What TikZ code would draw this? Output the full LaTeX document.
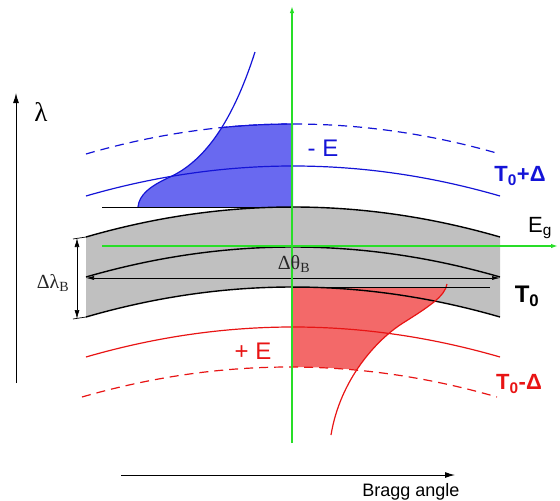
\documentclass[tikz,border=0pt]{standalone}
\usepackage{fontspec}
\setmainfont{Liberation Sans}
\newfontfamily\braggserif{Liberation Serif}
\usetikzlibrary{arrows.meta}
\definecolor{field-green}{RGB}{40,222,40}
\definecolor{band-gray}{RGB}{192,192,192}
\definecolor{hot-blue}{RGB}{20,20,215}
\definecolor{hot-fill}{RGB}{105,105,240}
\definecolor{cold-red}{RGB}{232,20,20}
\definecolor{cold-fill}{RGB}{243,105,105}
\tikzset{
  band-edge/.style={draw=black, line width=1.4pt},
  tangent-line/.style={draw=black, line width=0.7pt},
  axis-arrow/.style={-{Latex[length=10pt,width=6pt]}, line width=1pt},
  field-arrow/.style={draw=field-green, line width=1.6pt, -{Latex[length=7pt,width=4.5pt]}},
  hot-curve/.style={draw=hot-blue, line width=1.2pt},
  cold-curve/.style={draw=cold-red, line width=1.2pt},
  shift-dash/.style={dash pattern=on 9pt off 6pt},
  sans-label/.style={font=\fontsize{24}{24}\selectfont, inner sep=0pt},
  temp-label/.style={font=\bfseries\fontsize{22}{22}\selectfont, inner sep=0pt},
  serif-label/.style={font=\braggserif\fontsize{20}{20}\selectfont, inner sep=0pt, text=black!85}
}

\begin{document}
\begin{tikzpicture}[>=Latex, x=1pt, y=-1pt]
  \useasboundingbox (0,0) rectangle (560,501);
  \fill[band-gray] (86,237) .. controls (224,197) and (362,197) .. (500,237) -- (500,317)
    .. controls (362,277) and (224,277) .. (86,317) -- cycle;
  \begin{scope}
    \clip (138,207) .. controls (139,195) and (150,186) .. (170,177) .. controls (200,163) and (230,130) .. (255,52)
      -- (293,52) -- (293,207) -- cycle;
    \fill[hot-fill] (86,154) .. controls (224,114) and (362,114) .. (500,154) -- (500,207) -- (86,207) -- cycle;
    \draw[hot-curve] (86,154) .. controls (224,114) and (362,114) .. (500,154);
  \end{scope}
  \begin{scope}
    \clip (447,284) .. controls (445,296) and (430,306) .. (403,323) .. controls (376,340) and (340,380) .. (331,435)
      -- (293,435) -- (293,284) -- cycle;
    \fill[cold-fill] (86,287) -- (500,287) -- (500,397) .. controls (362,357) and (224,357) .. (86,397) -- cycle;
  \end{scope}
  \foreach \yy in {237,277,317} {
    \draw[band-edge] (86,\yy) .. controls (224,\yy-40) and (362,\yy-40) .. (500,\yy);
  }
  \draw[hot-curve, shift-dash] (86,154) .. controls (224,114) and (362,114) .. (500,154);
  \draw[hot-curve] (86,196) .. controls (224,156) and (362,156) .. (500,196);
  \draw[hot-curve] (138,207) .. controls (139,195) and (150,186) .. (170,177) .. controls (200,163) and (230,130) .. (255,52);
  \draw[cold-curve] (86,357) .. controls (224,317) and (362,317) .. (500,357);
  \draw[cold-curve, shift-dash] (82,397) .. controls (221,357) and (359,357) .. (497,397);
  \draw[cold-curve] (447,284) .. controls (445,296) and (430,306) .. (403,323) .. controls (376,340) and (340,380) .. (331,435);
  \coordinate (tt-l) at (102,207);
  \coordinate (tt-r) at (293,207);
  \coordinate (tb-l) at (293,287);
  \coordinate (tb-r) at (490,287);
  \draw[tangent-line] (tt-l) -- (tt-r);
  \draw[tangent-line] (tb-l) -- (tb-r);
  \coordinate (dt-l) at (86,278);
  \coordinate (dt-r) at (500,278);
  \draw[tangent-line, {Latex[length=8pt,width=4pt]}-{Latex[length=8pt,width=4pt]}] (dt-l) -- (dt-r);
  \coordinate (dl-t) at (77,238);
  \coordinate (dl-b) at (77,319);
  \draw[tangent-line, {Latex[length=9pt,width=5pt]}-{Latex[length=9pt,width=5pt]}] (dl-t) -- (dl-b);
  \draw[tangent-line] (73,239) -- (86,237);
  \draw[tangent-line] (73,319) -- (86,317);
  \coordinate (lam-b) at (16,383);
  \coordinate (lam-t) at (16,93);
  \draw[axis-arrow] (lam-b) -- (lam-t);
  \coordinate (bragg-l) at (121,475);
  \coordinate (bragg-r) at (455,475);
  \draw[axis-arrow] (bragg-l) -- (bragg-r);
  \coordinate (fv-b) at (292,443);
  \coordinate (fv-t) at (292,6);
  \draw[field-arrow] (fv-b) -- (fv-t);
  \coordinate (fh-l) at (102,246);
  \coordinate (fh-r) at (558,246);
  \draw[field-arrow] (fh-l) -- (fh-r);
  \node[serif-label, font=\braggserif\fontsize{27}{27}\selectfont, text=black] (lam) at (41,112) {λ};
  \node[serif-label] (dtheta) at (294,264) {Δθ\textsubscript{B}};
  \node[serif-label] (dlambda) at (53,283) {Δλ\textsubscript{B}};
  \node[sans-label, text=hot-blue] (minus-e) at (323,148) {- E};
  \node[sans-label, text=cold-red] (plus-e) at (253,351) {+ E};
  \node[temp-label, text=hot-blue] (t-hot) at (520,176) {T\textsubscript{0}+Δ};
  \node[temp-label, font=\bfseries\fontsize{24}{24}\selectfont] (t-zero) at (527,296) {T\textsubscript{0}};
  \node[temp-label, text=cold-red] (t-cold) at (519,384) {T\textsubscript{0}-Δ};
  \node[sans-label, font=\fontsize{22}{22}\selectfont] (e-g) at (540,228) {E\textsubscript{g}};
  \node[sans-label, font=\fontsize{18}{18}\selectfont] (bragg) at (411,492) {Bragg angle};
\end{tikzpicture}
\end{document}
